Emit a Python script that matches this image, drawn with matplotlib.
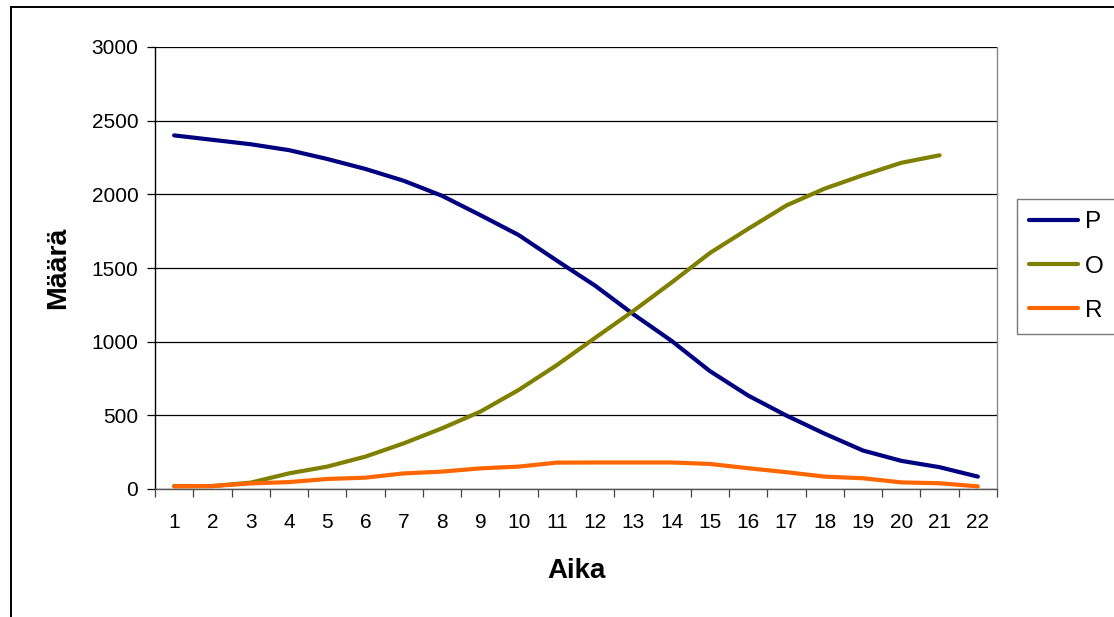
import matplotlib
matplotlib.use("Agg")
import matplotlib.pyplot as plt
from matplotlib.lines import Line2D

plt.rcParams['font.family'] = ['Liberation Sans', 'DejaVu Sans']

aika = list(range(1, 23))
P = [2400, 2370, 2340, 2300, 2240, 2172, 2092, 1990, 1859, 1724, 1550, 1380,
     1186, 1005, 800, 634, 498, 375, 261, 191, 148, 84]
O = [20, 20, 43, 106, 152, 220, 310, 412, 525, 672, 841, 1026,
     1209, 1402, 1602, 1766, 1925, 2039, 2130, 2214, 2265]
R = [18, 20, 38, 47, 68, 77, 106, 118, 140, 152, 179, 180,
     180, 180, 170, 141, 114, 84, 73, 45, 39, 18]
series_names = ['P', 'O', 'R']
colors = ['#000080', '#808000', '#FF6600']
yticks = [0, 500, 1000, 1500, 2000, 2500, 3000]

W, H = 1114, 617
fig = plt.figure(figsize=(W / 100, H / 100), dpi=100)
ax = fig.add_axes([155 / W, 1 - 489 / H, (997 - 155) / W, (489 - 47) / H])

for name, vals, c in zip(series_names, [P, O, R], colors):
    ax.plot(aika[:len(vals)], vals, color=c, lw=3.0, label=name,
            solid_capstyle='round', solid_joinstyle='round')

ax.set_xlim(0.5, 22.5)
ax.set_ylim(0, 3000)
ax.set_yticks(yticks)
ax.set_yticklabels([str(v) for v in yticks])
ax.set_xticks(aika)
ax.set_xticklabels([str(v) for v in aika])
ax.set_xticks([k + 0.5 for k in range(0, 23)], minor=True)

ax.yaxis.grid(True, color='black', lw=0.9)
ax.set_axisbelow(True)
ax.tick_params(axis='x', which='major', length=0, pad=17, labelsize=15)
ax.tick_params(axis='x', which='minor', length=6, width=0.9, direction='out', color='#444444')
ax.tick_params(axis='y', length=6, width=0.9, direction='out', pad=6, labelsize=15)

ax.spines['top'].set_visible(False)
ax.spines['right'].set_color('#888888')
ax.spines['left'].set_color('black')
ax.spines['bottom'].set_color('#555555')
for s in ax.spines.values():
    s.set_linewidth(1.0)

ax.set_xlabel('Aika', fontsize=20, fontweight='bold', labelpad=19)
ax.set_ylabel('Määrä', fontsize=20.5, fontweight='bold', labelpad=15)

leg = ax.legend(loc='upper left', bbox_to_anchor=(1017 / W, 1 - 199 / H),
                bbox_transform=fig.transFigure, frameon=True, fancybox=False,
                fontsize=17.5, handlelength=2.0, handletextpad=0.3,
                borderpad=0.5, labelspacing=0.92, borderaxespad=0)
leg.get_frame().set_edgecolor('#555555')
leg.get_frame().set_linewidth(1.0)

# outer chart frame (partially visible)
fig.add_artist(Line2D([10.7 / W, 10.7 / W], [0, 1 - 7 / H], color='black', lw=1.4,
                      transform=fig.transFigure))
fig.add_artist(Line2D([10.7 / W, 1], [1 - 7 / H, 1 - 7 / H], color='black', lw=1.4,
                      transform=fig.transFigure))

fig.savefig('out.png', dpi=100)
